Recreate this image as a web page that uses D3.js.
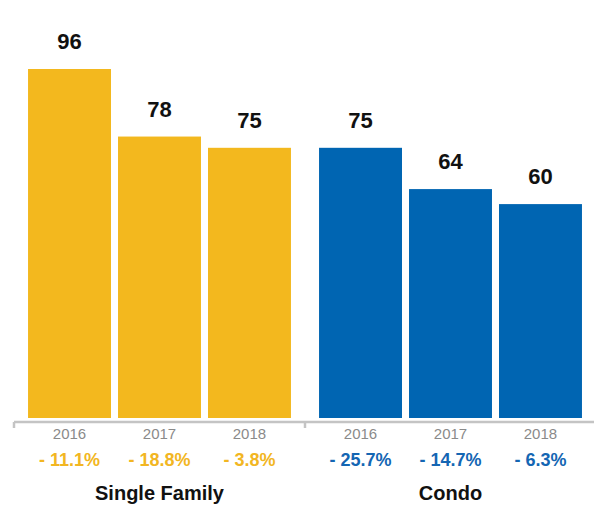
<!DOCTYPE html>
<html>
<head>
<meta charset="utf-8">
<script src="https://cdn.jsdelivr.net/npm/d3@7"></script>
<style>
  html, body { margin: 0; padding: 0; background: #fff; }
  svg { display: block; font-family: "Liberation Sans", Arial, Helvetica, sans-serif; }
</style>
</head>
<body>
<svg id="chart" width="594" height="509"></svg>
<script>
const groups = ["Single Family", "Condo"];
const years = ["2016", "2017", "2018"];
const singleFamily = [96, 78, 75];
const condo = [75, 64, 60];
const singleFamilyChange = ["- 11.1%", "- 18.8%", "- 3.8%"];
const condoChange = ["- 25.7%", "- 14.7%", "- 6.3%"];

const seriesValues = [singleFamily, condo];
const seriesChange = [singleFamilyChange, condoChange];
const colors = ["#F3B81E", "#0065B2"];
const textColors = ["#F2B622", "#1466B3"];

const svg = d3.select("#chart");

const x0 = d3.scaleBand().domain(groups).range([14, 596]).padding(0);
const x1 = d3.scaleBand().domain(years).range([0, x0.bandwidth()])
  .paddingInner(0.078).paddingOuter(0.156);
const y = d3.scaleLinear().domain([3, 96]).range([418, 69]);

const data = groups.map((g, gi) => ({
  group: g, gi,
  items: years.map((yr, i) => ({ year: yr, value: seriesValues[gi][i], change: seriesChange[gi][i] }))
}));

const gSel = svg.selectAll("g.grp").data(data).enter().append("g")
  .attr("class", "grp")
  .attr("transform", d => `translate(${x0(d.group)},0)`);

// bars
gSel.selectAll("rect").data(d => d.items.map(it => ({ ...it, gi: d.gi }))).enter().append("rect")
  .attr("x", d => x1(d.year))
  .attr("width", x1.bandwidth())
  .attr("y", d => y(d.value))
  .attr("height", d => y.range()[0] - y(d.value))
  .attr("fill", d => colors[d.gi]);

// value labels
gSel.selectAll("text.val").data(d => d.items).enter().append("text")
  .attr("class", "val")
  .attr("x", d => x1(d.year) + x1.bandwidth() / 2)
  .attr("y", d => y(d.value) - 20)
  .attr("text-anchor", "middle")
  .attr("font-size", 22)
  .attr("font-weight", "bold")
  .attr("fill", "#111")
  .text(d => d.value);

// axis line and ticks
const axisY = 422;
svg.append("line")
  .attr("x1", 14).attr("x2", 594)
  .attr("y1", axisY).attr("y2", axisY)
  .attr("stroke", "#c4c4c4").attr("stroke-width", 2.5);
svg.selectAll("line.tick").data(groups).enter().append("line")
  .attr("class", "tick")
  .attr("x1", d => x0(d)).attr("x2", d => x0(d))
  .attr("y1", axisY).attr("y2", 428)
  .attr("stroke", "#c4c4c4").attr("stroke-width", 2.5);

// year labels
gSel.selectAll("text.yr").data(d => d.items).enter().append("text")
  .attr("class", "yr")
  .attr("x", d => x1(d.year) + x1.bandwidth() / 2)
  .attr("y", 439)
  .attr("text-anchor", "middle")
  .attr("font-size", 15)
  .attr("fill", "#8a8a8a")
  .text(d => d.year);

// change labels
gSel.selectAll("text.chg").data(d => d.items.map(it => ({ ...it, gi: d.gi }))).enter().append("text")
  .attr("class", "chg")
  .attr("x", d => x1(d.year) + x1.bandwidth() / 2)
  .attr("y", 466)
  .attr("text-anchor", "middle")
  .attr("font-size", 18)
  .attr("font-weight", "bold")
  .attr("fill", d => textColors[d.gi])
  .text(d => d.change);

// group labels
gSel.append("text")
  .attr("x", d => x1(years[0]) + (x1(years[2]) + x1.bandwidth() - x1(years[0])) / 2)
  .attr("y", 500)
  .attr("text-anchor", "middle")
  .attr("font-size", 20)
  .attr("font-weight", "bold")
  .attr("fill", "#111")
  .text(d => d.group);
</script>
</body>
</html>
